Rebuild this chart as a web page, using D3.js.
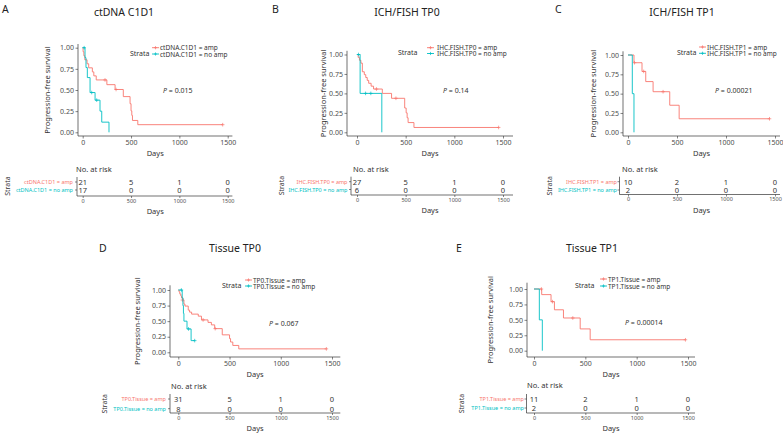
<!DOCTYPE html>
<html>
<head>
<meta charset="utf-8">
<script src="https://cdn.jsdelivr.net/npm/d3@7"></script>
<style>
  body { margin: 0; background: #fff; }
  svg { display: block; }
  text { font-family: "Noto Sans", "Open Sans", sans-serif; }
</style>
</head>
<body>
<svg id="chart" width="783" height="435"></svg>
<script>
// ---- data ----
var ticksX = [0, 500, 1000, 1500];
var ticksY = [0, 0.25, 0.5, 0.75, 1];
var letters = ["A", "B", "C", "D", "E"];
var titles = ["ctDNA C1D1", "ICH/FISH TP0", "ICH/FISH TP1", "Tissue TP0", "Tissue TP1"];
var strataNames = ["ctDNA.C1D1", "IHC.FISH.TP0", "IHC.FISH.TP1", "TP0.Tissue", "TP1.Tissue"];
var groups = ["amp", "no amp"];
var pValues = ["0.015", "0.14", "0.00021", "0.067", "0.00014"];

// A: ctDNA C1D1
var aAmpTime = [0, 4, 12, 22, 45, 62, 100, 115, 140, 250, 335, 420, 490, 500, 508, 515, 570];
var aAmpSurv = [1, 0.952, 0.905, 0.857, 0.81, 0.762, 0.714, 0.667, 0.619, 0.563, 0.506, 0.422, 0.338, 0.253, 0.2, 0.14, 0.09];
var aAmpCens = [[231, 0.619], [345, 0.506], [1448, 0.09]];
var aNoTime = [0, 24, 34, 48, 76, 128, 179, 197, 272];
var aNoSurv = [1, 0.882, 0.765, 0.647, 0.47, 0.38, 0.25, 0.12, 0];
var aNoCens = [[15, 1], [93, 0.47], [145, 0.38]];
var aRiskAmp = [21, 5, 1, 0];
var aRiskNo = [17, 0, 0, 0];

// B: ICH/FISH TP0
var bAmpTime = [0, 12, 25, 40, 55, 75, 90, 105, 120, 145, 170, 260, 355, 490, 505, 515, 525, 585];
var bAmpSurv = [1, 0.963, 0.926, 0.889, 0.778, 0.741, 0.704, 0.667, 0.63, 0.593, 0.556, 0.5, 0.437, 0.312, 0.25, 0.187, 0.125, 0.062];
var bAmpCens = [[200, 0.556], [400, 0.437], [1455, 0.062]];
var bNoTime = [0, 32, 255];
var bNoSurv = [1, 0.5, 0];
var bNoCens = [[15, 1], [88, 0.5], [142, 0.5]];
var bRiskAmp = [27, 5, 1, 0];
var bRiskNo = [6, 0, 0, 0];

// C: ICH/FISH TP1
var cAmpTime = [0, 61, 143, 181, 256, 426, 522];
var cAmpSurv = [1, 0.9, 0.7875, 0.656, 0.525, 0.35, 0.175];
var cAmpCens = [[66, 0.9], [160, 0.7875], [358, 0.525], [1444, 0.175]];
var cNoTime = [0, 44, 61];
var cNoSurv = [1, 0.5, 0];
var cNoCens = [];
var cRiskAmp = [10, 2, 1, 0];
var cRiskNo = [2, 0, 0, 0];

// D: Tissue TP0
var dAmpTime = [0, 8, 15, 25, 32, 45, 55, 65, 97, 110, 130, 195, 226, 290, 323, 355, 429, 500, 510, 532, 590];
var dAmpSurv = [1, 0.968, 0.935, 0.903, 0.871, 0.839, 0.774, 0.742, 0.677, 0.645, 0.613, 0.58, 0.52, 0.48, 0.44, 0.38, 0.28, 0.22, 0.165, 0.11, 0.055];
var dAmpCens = [[40, 0.839], [242, 0.52], [360, 0.38], [1445, 0.055]];
var dNoTime = [0, 38, 45, 50, 55, 85, 125];
var dNoSurv = [1, 0.875, 0.75, 0.625, 0.5, 0.375, 0.1875];
var dNoCens = [[30, 1], [100, 0.375], [160, 0.1875]];
var dRiskAmp = [31, 5, 1, 0];
var dRiskNo = [8, 0, 0, 0];

// E: Tissue TP1
var eAmpTime = [0, 75, 166, 199, 287, 450, 547];
var eAmpSurv = [1, 0.909, 0.795, 0.663, 0.53, 0.353, 0.177];
var eAmpCens = [[72, 1], [180, 0.795], [378, 0.53], [1475, 0.177]];
var eNoTime = [0, 52, 81];
var eNoSurv = [1, 0.5, 0];
var eNoCens = [];
var eRiskAmp = [11, 2, 1, 0];
var eRiskNo = [2, 0, 0, 0];

var curves = [
    [[aAmpTime, aAmpSurv, aAmpCens], [aNoTime, aNoSurv, aNoCens]],
    [[bAmpTime, bAmpSurv, bAmpCens], [bNoTime, bNoSurv, bNoCens]],
    [[cAmpTime, cAmpSurv, cAmpCens], [cNoTime, cNoSurv, cNoCens]],
    [[dAmpTime, dAmpSurv, dAmpCens], [dNoTime, dNoSurv, dNoCens]],
    [[eAmpTime, eAmpSurv, eAmpCens], [eNoTime, eNoSurv, eNoCens]]
];
var risks = [[aRiskAmp, aRiskNo], [bRiskAmp, bRiskNo], [cRiskAmp, cRiskNo], [dRiskAmp, dRiskNo], [eRiskAmp, eRiskNo]];

var colors = ["#F8766D", "#00BFC4"];

// ---- layout (pixel positions of each panel) ----
var layout = [
    {letter: [2, 9], title: [124, 12], axisX: 78, x0: 82.7, x1: 227.7, yTop: 47.7, yBot: 132.3, axisY: 136, ylab: 47,
     strata: 130, legLine: 152, legText: 160, leg1: 47.7, leg2: 54, p: [163, 90],
     rHead: [76, 169], r1: 182, r2: 190, rAxisX: 77, rBottom: 196, rLabEnd: 73, rStrata: 7},
    {letter: [272, 9], title: [407, 12], axisX: 347, x0: 357, x1: 503, yTop: 54.5, yBot: 132.3, axisY: 136, ylab: 323,
     strata: 398, legLine: 427, legText: 437, leg1: 47.7, leg2: 53.5, p: [443, 90],
     rHead: [353, 169], r1: 181.7, r2: 189.5, rAxisX: 351, rBottom: 195, rLabEnd: 347.5, rStrata: 281},
    {letter: [555, 9], title: [682, 12], axisX: 623, x0: 628, x1: 775, yTop: 55, yBot: 132.3, axisY: 136, ylab: 593,
     strata: 677, legLine: 699, legText: 707, leg1: 47, leg2: 53.3, p: [715, 90],
     rHead: [622, 169], r1: 181.7, r2: 190, rAxisX: 619.5, rBottom: 194.5, rLabEnd: 617, rStrata: 549},
    {letter: [99, 248], title: [235, 248], axisX: 170, x0: 178.3, x1: 332, yTop: 290, yBot: 352.3, axisY: 357, ylab: 137,
     strata: 222, legLine: 245, legText: 253, leg1: 280, leg2: 286, p: [269, 322.7],
     rHead: [171, 386], r1: 399, r2: 408.7, rAxisX: 170, rBottom: 413, rLabEnd: 166, rStrata: 104},
    {letter: [456, 248], title: [592, 248], axisX: 527, x0: 534, x1: 688, yTop: 289, yBot: 350.7, axisY: 357, ylab: 490,
     strata: 575, legLine: 600, legText: 608, leg1: 279, leg2: 286, p: [625, 322],
     rHead: [527, 385], r1: 399, r2: 408, rAxisX: 526.5, rBottom: 413, rLabEnd: 524, rStrata: 461}
];

var svg = d3.select('#chart');
var axisCol = '#333';
var textCol = '#4d4d4d';

function censorPath(s) {
    return 'M' + (-s) + ',0H' + s + 'M0,' + (-s) + 'V' + s;
}

function drawPanel(i) {
    var L = layout[i];
    var g = svg.append('g');

    var x = d3.scaleLinear().domain([0, 1500]).range([L.x0, L.x1]);
    var y = d3.scaleLinear().domain([0, 1]).range([L.yBot, L.yTop]);
    var xEnd = L.x1 + (L.x0 - L.axisX);
    var yEnd = L.yTop - (L.axisY - L.yBot);

    // panel letter + title
    g.append('text').attr('x', L.letter[0]).attr('y', L.letter[1])
        .attr('dominant-baseline', 'central')
        .style('font-size', '10.5px').style('fill', '#222')
        .text(letters[i]);
    g.append('text').attr('x', L.title[0]).attr('y', L.title[1])
        .attr('text-anchor', 'middle').attr('dominant-baseline', 'central')
        .style('font-size', '10.5px').style('fill', '#222')
        .text(titles[i]);

    // axes
    var xAxis = g.append('g').attr('transform', 'translate(0,' + L.axisY + ')')
        .call(d3.axisBottom(x).tickValues(ticksX).tickFormat(d3.format('d')).tickSize(2.5).tickPadding(1.5));
    var yAxis = g.append('g').attr('transform', 'translate(' + L.axisX + ',0)')
        .call(d3.axisLeft(y).tickValues(ticksY).tickFormat(d3.format('.2f')).tickSize(2.5).tickPadding(1.5));
    [xAxis, yAxis].forEach(function(a) {
        a.select('.domain').remove();
        a.selectAll('line').attr('stroke', axisCol).attr('stroke-width', 0.6);
        a.selectAll('text').style('font-size', '7px').style('fill', textCol).style('font-family', '"Noto Sans", sans-serif');
    });
    g.append('line').attr('x1', L.axisX).attr('x2', xEnd).attr('y1', L.axisY).attr('y2', L.axisY)
        .attr('stroke', axisCol).attr('stroke-width', 0.7);
    g.append('line').attr('x1', L.axisX).attr('x2', L.axisX).attr('y1', yEnd).attr('y2', L.axisY)
        .attr('stroke', axisCol).attr('stroke-width', 0.7);

    g.append('text').attr('x', (L.x0 + L.x1) / 2).attr('y', L.axisY + 16.5)
        .attr('text-anchor', 'middle').attr('dominant-baseline', 'central')
        .style('font-size', '7.5px').style('fill', '#333').text('Days');
    g.append('text')
        .attr('transform', 'translate(' + L.ylab + ',' + ((L.yTop + L.yBot) / 2) + ') rotate(-90)')
        .attr('text-anchor', 'middle').attr('dominant-baseline', 'central')
        .style('font-size', '7.5px').style('fill', '#333').text('Progression-free survival');

    // survival curves
    var line = d3.line()
        .x(function(d) { return x(d[0]); })
        .y(function(d) { return y(d[1]); })
        .curve(d3.curveStepAfter);

    curves[i].forEach(function(c, k) {
        var pts = c[0].map(function(t, j) { return [t, c[1][j]]; });
        var last = pts[pts.length - 1];
        var maxC = d3.max(c[2], function(d) { return d[0]; }) || 0;
        if (maxC > last[0]) pts.push([maxC, last[1]]);
        g.append('path').datum(pts)
            .attr('d', line)
            .attr('fill', 'none')
            .attr('stroke', colors[k])
            .attr('stroke-width', 0.9);
        g.selectAll('.cens' + k)
            .data(c[2])
            .enter()
            .append('path')
                .attr('class', 'cens' + k)
                .attr('transform', function(d) { return 'translate(' + x(d[0]) + ',' + y(d[1]) + ')'; })
                .attr('d', censorPath(1.8))
                .attr('stroke', colors[k])
                .attr('stroke-width', 0.7);
    });

    // legend
    g.append('text').attr('x', L.strata).attr('y', L.leg2 - 1)
        .attr('dominant-baseline', 'central')
        .style('font-size', '7px').style('fill', '#333').text('Strata');
    [L.leg1, L.leg2].forEach(function(ly, k) {
        g.append('line').attr('x1', L.legLine).attr('x2', L.legLine + 7).attr('y1', ly).attr('y2', ly)
            .attr('stroke', colors[k]).attr('stroke-width', 0.9);
        g.append('path').attr('transform', 'translate(' + (L.legLine + 3.5) + ',' + ly + ')')
            .attr('d', censorPath(1.6)).attr('stroke', colors[k]).attr('stroke-width', 0.7);
        g.append('text').attr('x', L.legText).attr('y', ly)
            .attr('dominant-baseline', 'central')
            .style('font-size', '6.5px').style('fill', '#333')
            .text(strataNames[i] + ' = ' + groups[k]);
    });

    // p value
    var pt = g.append('text').attr('x', L.p[0]).attr('y', L.p[1])
        .attr('dominant-baseline', 'central')
        .style('font-size', '7px').style('fill', '#333');
    pt.append('tspan').style('font-style', 'italic').text('P');
    pt.append('tspan').text(' = ' + pValues[i]);

    // risk table
    g.append('text').attr('x', L.rHead[0]).attr('y', L.rHead[1])
        .attr('dominant-baseline', 'central')
        .style('font-size', '7.5px').style('fill', '#333').text('No. at risk');

    var rows = [L.r1, L.r2];
    risks[i].forEach(function(r, k) {
        g.selectAll('.risk' + k)
            .data(r)
            .enter()
            .append('text')
                .attr('class', 'risk' + k)
                .attr('x', function(d, j) { return x(ticksX[j]); })
                .attr('y', rows[k])
                .attr('text-anchor', 'middle').attr('dominant-baseline', 'central')
                .style('font-size', '7.5px').style('fill', '#333')
                .text(function(d) { return d; });
        g.append('text').attr('x', L.rLabEnd).attr('y', rows[k])
            .attr('text-anchor', 'end').attr('dominant-baseline', 'central')
            .style('font-size', '5.5px').style('fill', colors[k])
            .text(strataNames[i] + ' = ' + groups[k]);
        g.append('line').attr('x1', L.rAxisX - 2).attr('x2', L.rAxisX).attr('y1', rows[k]).attr('y2', rows[k])
            .attr('stroke', axisCol).attr('stroke-width', 0.6);
    });
    g.append('line').attr('x1', L.rAxisX).attr('x2', L.rAxisX).attr('y1', L.r1 - 5).attr('y2', L.rBottom)
        .attr('stroke', axisCol).attr('stroke-width', 0.7);
    g.append('line').attr('x1', L.rAxisX).attr('x2', xEnd).attr('y1', L.rBottom).attr('y2', L.rBottom)
        .attr('stroke', axisCol).attr('stroke-width', 0.7);
    var rAxis = g.append('g').attr('transform', 'translate(0,' + L.rBottom + ')')
        .call(d3.axisBottom(x).tickValues(ticksX).tickFormat(d3.format('d')).tickSize(2).tickPadding(1));
    rAxis.select('.domain').remove();
    rAxis.selectAll('line').attr('stroke', axisCol).attr('stroke-width', 0.6);
    rAxis.selectAll('text').style('font-size', '5.5px').style('fill', textCol).style('font-family', '"Noto Sans", sans-serif');

    g.append('text').attr('x', (L.x0 + L.x1) / 2).attr('y', L.rBottom + 15)
        .attr('text-anchor', 'middle').attr('dominant-baseline', 'central')
        .style('font-size', '7.5px').style('fill', '#333').text('Days');
    g.append('text')
        .attr('transform', 'translate(' + L.rStrata + ',' + ((L.r1 + L.r2) / 2) + ') rotate(-90)')
        .attr('text-anchor', 'middle').attr('dominant-baseline', 'central')
        .style('font-size', '7px').style('fill', '#333').text('Strata');
}

for (var i = 0; i < layout.length; i++) drawPanel(i);
</script>
</body>
</html>
